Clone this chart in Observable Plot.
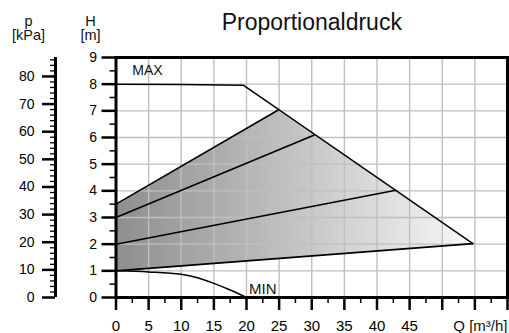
<!DOCTYPE html>
<html><head><meta charset="utf-8">
<script src="https://cdn.jsdelivr.net/npm/d3@7"></script>
<script src="https://cdn.jsdelivr.net/npm/@observablehq/plot@0.6"></script>
<style>body{margin:0;background:#fff}</style>
</head><body><div id="chart"></div>
<script>
// Axis ticks
const qTicks = [0, 5, 10, 15, 20, 25, 30, 35, 40, 45, 50, 55, 60];
const qLabelTicks = [0, 5, 10, 15, 20, 25, 30, 35, 40, 45];
const qMinor = [2.5, 7.5, 12.5, 17.5, 22.5, 27.5, 32.5, 37.5, 42.5, 47.5, 52.5, 57.5];
const hTicks = [0, 1, 2, 3, 4, 5, 6, 7, 8, 9];
const hMinor = [0.5, 1.5, 2.5, 3.5, 4.5, 5.5, 6.5, 7.5, 8.5];
const pTicks = [0, 10, 20, 30, 40, 50, 60, 70, 80];
const pMinor = [2, 4, 6, 8, 12, 14, 16, 18, 22, 24, 26, 28, 32, 34, 36, 38, 42, 44, 46, 48, 52, 54, 56, 58, 62, 64, 66, 68, 72, 74, 76, 78, 82, 84, 86];
const kPaPerM = 9.65;
const gridQ = [5, 10, 15, 20, 25, 30, 35, 40, 45, 50, 55];
const gridH = [1, 2, 3, 4, 5, 6, 7, 8];

// Curves
const maxQ = [0, 10, 19.5, 54.7];
const maxH = [8.0, 7.99, 7.96, 2.02];
const minQ = [0, 5, 10, 12.5, 15, 17.5, 20];
const minH = [1, 0.96, 0.87, 0.74, 0.53, 0.28, 0];
const propStartH = [1, 2, 3, 3.5];
const propEndQ = [54.7, 42.9, 30.4, 24.8];
const propEndH = [2.02, 4.02, 6.09, 7.02];
const areaQ = [0, 0, 24.8, 54.7];
const areaH = [1, 3.5, 7.02, 2.02];

const maxData = maxQ.map((q, i) => ({q, h: maxH[i]}));
const minData = minQ.map((q, i) => ({q, h: minH[i]}));
const areaData = areaQ.map((q, i) => ({q, h: areaH[i]}));
const propData = propStartH.flatMap((h, i) => [
  {id: i, q: 0, h},
  {id: i, q: propEndQ[i], h: propEndH[i]}
]);

const pdx = -60.5;
const svg = Plot.plot({
  width: 509,
  height: 333,
  marginLeft: 115.5,
  marginRight: 2,
  marginTop: 57,
  marginBottom: 36,
  style: {fontFamily: "'Liberation Sans', Arial, sans-serif", background: "#fff", overflow: "visible"},
  x: {domain: [0, 60]},
  y: {domain: [0, 9]},
  marks: [
    Plot.line(areaData, {x: "q", y: "h", fill: "url(#propGrad)", stroke: "none"}),
    Plot.ruleX(gridQ, {stroke: "#bfbfbf", strokeWidth: 1.4}),
    Plot.ruleY(gridH, {stroke: "#bfbfbf", strokeWidth: 1.4}),
    Plot.line(propData, {x: "q", y: "h", z: "id", stroke: "#000", strokeWidth: 1.6}),
    Plot.line(maxData, {x: "q", y: "h", stroke: "#000", strokeWidth: 1.5}),
    Plot.line(minData, {x: "q", y: "h", stroke: "#000", strokeWidth: 1.5, curve: "monotone-x"}),
    Plot.frame({stroke: "#000", strokeWidth: 3}),
    Plot.axisX(qTicks, {tickSize: 13, tickPadding: 10, tickFormat: d => qLabelTicks.includes(d) ? String(d) : "", strokeWidth: 2.5, fontSize: 15, label: null}),
    Plot.axisX(qMinor, {tickSize: 6, tickFormat: () => "", strokeWidth: 1.5, label: null}),
    Plot.axisY(hTicks, {tickSize: 14, tickPadding: 5, strokeWidth: 2.5, fontSize: 14, label: null}),
    Plot.axisY(hMinor, {tickSize: 6, tickFormat: () => "", strokeWidth: 1.5, label: null}),
    Plot.axisY(pTicks.map(p => p / kPaPerM), {tickSize: 13, tickPadding: 8, tickFormat: d => String(Math.round(d * kPaPerM)), dx: pdx, strokeWidth: 2.5, fontSize: 14, label: null}),
    Plot.axisY(pMinor.map(p => p / kPaPerM), {tickSize: 5, tickFormat: () => "", dx: pdx, strokeWidth: 1.3, label: null}),
    Plot.ruleX([0], {y1: 0, y2: 9, dx: pdx, stroke: "#000", strokeWidth: 3}),
    Plot.text(["Proportionaldruck"], {frameAnchor: "top", textAnchor: "middle", lineAnchor: "top", dy: -44, fontSize: 23, fill: "#111"}),
    Plot.text(["p\n[kPa]"], {frameAnchor: "top-left", textAnchor: "middle", lineAnchor: "top", dx: -87.5, dy: -42, fontSize: 14.5, lineHeight: 1.0, fill: "#111"}),
    Plot.text(["H\n[m]"], {frameAnchor: "top-left", textAnchor: "middle", lineAnchor: "top", dx: -25.5, dy: -42, fontSize: 14.5, lineHeight: 1.0, fill: "#111"}),
    Plot.text(["Q [m³/h]"], {frameAnchor: "bottom-right", textAnchor: "end", lineAnchor: "top", dy: 23, fontSize: 15, fill: "#111"}),
    Plot.text(["MAX"], {x: 2.5, y: 8.7, textAnchor: "start", lineAnchor: "top", fontSize: 14, fill: "#111"}),
    Plot.text(["MIN"], {x: 20.4, y: 0.52, textAnchor: "start", lineAnchor: "top", fontSize: 15, fill: "#111"})
  ]
});

const xs = svg.scale("x");
const defs = d3.select(svg).insert("defs", ":first-child");
const grad = defs.append("linearGradient")
  .attr("id", "propGrad")
  .attr("gradientUnits", "userSpaceOnUse")
  .attr("x1", xs.apply(0)).attr("y1", 0)
  .attr("x2", xs.apply(54.7)).attr("y2", 0);
grad.append("stop").attr("offset", "0%").attr("stop-color", "#8e8e8e");
grad.append("stop").attr("offset", "100%").attr("stop-color", "#f8f8f8");

document.getElementById("chart").appendChild(svg);
</script>
</body></html>
